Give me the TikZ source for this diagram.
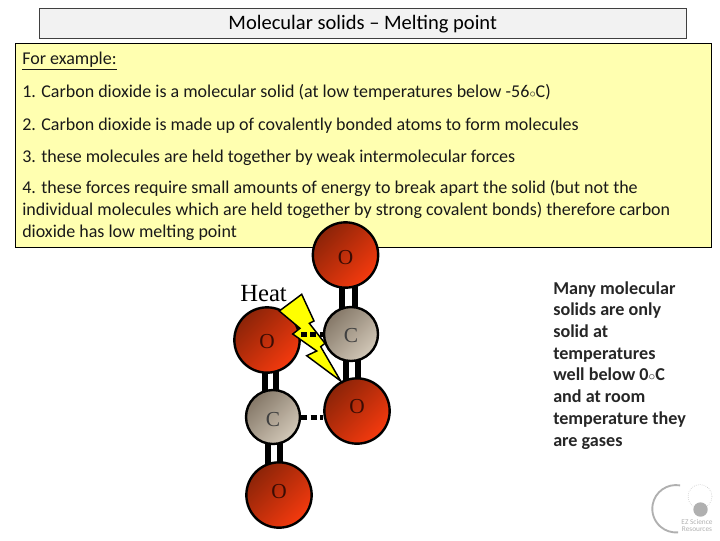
\documentclass[tikz,border=0pt]{standalone}
\usepackage{fontspec}
\setmainfont{Carlito}
\newfontfamily\atomfont{Liberation Serif}
\usetikzlibrary{backgrounds}
\newcommand{\atomletter}[2]{\raisebox{\dimexpr #1-0.33em\relax}[0pt][0pt]{#2}}
\definecolor{pale}{HTML}{F2F2F2}
\definecolor{noteyellow}{HTML}{FFFFB0}
\definecolor{boltyellow}{HTML}{FFFF00}
\definecolor{oxydark}{HTML}{8C2408}
\definecolor{oxylight}{HTML}{F53A0E}
\definecolor{carbdark}{HTML}{857868}
\definecolor{carblight}{HTML}{D2C8B8}
\definecolor{atomink}{HTML}{3A0C04}
\definecolor{logogray}{HTML}{B0B0B0}
\tikzset{
  x=0.75pt,y=-0.75pt,
  oxygen/.style={circle,draw=black,line width=1.8pt,minimum size=49pt,inner sep=0pt,
    top color=oxydark,bottom color=oxylight,shading angle=45,
    font=\atomfont\fontsize{16}{16}\selectfont,text=atomink},
  carbon/.style={circle,draw=black,line width=1.8pt,minimum size=40.5pt,inner sep=0pt,
    top color=carbdark,bottom color=carblight,shading angle=45,
    font=\atomfont\fontsize{16}{16}\selectfont,text=black!75},
  bond/.style={line width=4.5pt,black},
  hbond/.style={line width=3.75pt,black,dash pattern=on 4.5pt off 2.5pt},
  bodytext/.style={anchor=base west,inner sep=0pt,font=\fontsize{13.5}{16.4}\selectfont,text=black!90,align=left},
}
\begin{document}
\begin{tikzpicture}
\useasboundingbox (0,0) rectangle (720,540);
% panels
\node[draw=black!75,line width=0.6pt,fill=pale,minimum width=485pt,minimum height=23pt,inner sep=0pt,anchor=north west,font=\fontsize{15.4}{16}\selectfont] (title) at (39,7.5) {\raisebox{-4.65pt}[0pt][0pt]{Molecular solids -- Melting point}};
\node[draw=black,line width=0.7pt,fill=noteyellow,minimum width=522pt,minimum height=153pt,inner sep=0pt,anchor=north west] (note) at (15,43) {};
\node[bodytext] (ex) at (22,64) {\underline{For example:}};
\node[bodytext] (l1) at (22,97) {1. Carbon dioxide is a molecular solid (at low temperatures below -56$\scriptstyle\circ$C)};
\node[bodytext] (l2) at (22,130) {2. Carbon dioxide is made up of covalently bonded atoms to form molecules};
\node[bodytext] (l3) at (22,162) {3. these molecules are held together by weak intermolecular forces};
\node[bodytext,anchor=north west] (l4) at (22,180.5) {4. these forces require small amounts of energy to break apart the solid (but not the\\individual molecules which are held together by strong covalent bonds) therefore carbon\\dioxide has low melting point};
% atoms
\node[oxygen] (o1) at (345.5,255) {\atomletter{-2pt}{O}};
\node[carbon] (c1) at (351,334) {\atomletter{-0.75pt}{C}};
\node[oxygen] (o2) at (267,340) {\atomletter{-1.3pt}{O}};
\node[oxygen] (o3) at (357,411) {\atomletter{3.2pt}{O}};
\node[carbon] (c2) at (273,417) {\atomletter{-2.2pt}{C}};
\node[oxygen] (o4) at (279,495) {\atomletter{2.5pt}{O}};
\node[anchor=base west,inner sep=0pt,font=\atomfont\fontsize{18.5}{20}\selectfont] (heat) at (240,301) {Heat};
\coordinate (ba) at (342,0);
\coordinate (bb) at (355,0);
\coordinate (bc) at (346,0);
\coordinate (bd) at (358,0);
\coordinate (be) at (265,0);
\coordinate (bf) at (276,0);
\coordinate (bg) at (268,0);
\coordinate (bh) at (280,0);
\begin{pgfonlayer}{background}
\draw[bond] (ba |- o1.center) -- (ba |- c1.center);
\draw[bond] (bb |- o1.center) -- (bb |- c1.center);
\draw[bond] (bc |- c1.center) -- (bc |- o3.center);
\draw[bond] (bd |- c1.center) -- (bd |- o3.center);
\draw[bond] (be |- o2.center) -- (be |- c2.center);
\draw[bond] (bf |- o2.center) -- (bf |- c2.center);
\draw[bond] (bg |- c2.center) -- (bg |- o4.center);
\draw[bond] (bh |- c2.center) -- (bh |- o4.center);
\end{pgfonlayer}
% bolt
\draw[fill=boltyellow,draw=black,line width=1.1pt,line join=miter]
 (301.7,294.3) -- (314,321) -- (309.3,323.3) -- (325,343.3) -- (320.7,346.7) -- (340.7,381)
 -- (306.7,355.7) -- (316.7,351) -- (292.7,334) -- (300,328.3) -- (279.3,311) -- cycle;
% weak forces
\draw[hbond] (o2.east |- c1.west) -- (c1.west);
\draw[hbond] (c2.east) -- (c2.east -| o3.west);
% side note
\node[anchor=north west,inner sep=0pt,align=left,font=\bfseries\fontsize{13.6}{16.3}\selectfont,text=black!85] (side) at (553,281) {Many molecular\\solids are only\\solid at\\temperatures\\well below 0$\scriptstyle\circ$C\\and at room\\temperature they\\are gases};
% logo
\draw[logogray,line width=1.4pt] (680.1,485.4) arc[start angle=-80,end angle=-275,radius=23.7];
\draw[logogray!70,densely dotted,line width=0.5pt] (700,496.5) circle[radius=12];
\fill[logogray] (700.5,509.5) circle[radius=7.2];
\node[anchor=center,inner sep=0pt,align=center,font=\fontsize{5.5}{5.25}\selectfont,text=logogray] (logo) at (697,525.5) {EZ Science\\Resources};
\end{tikzpicture}
\end{document}
